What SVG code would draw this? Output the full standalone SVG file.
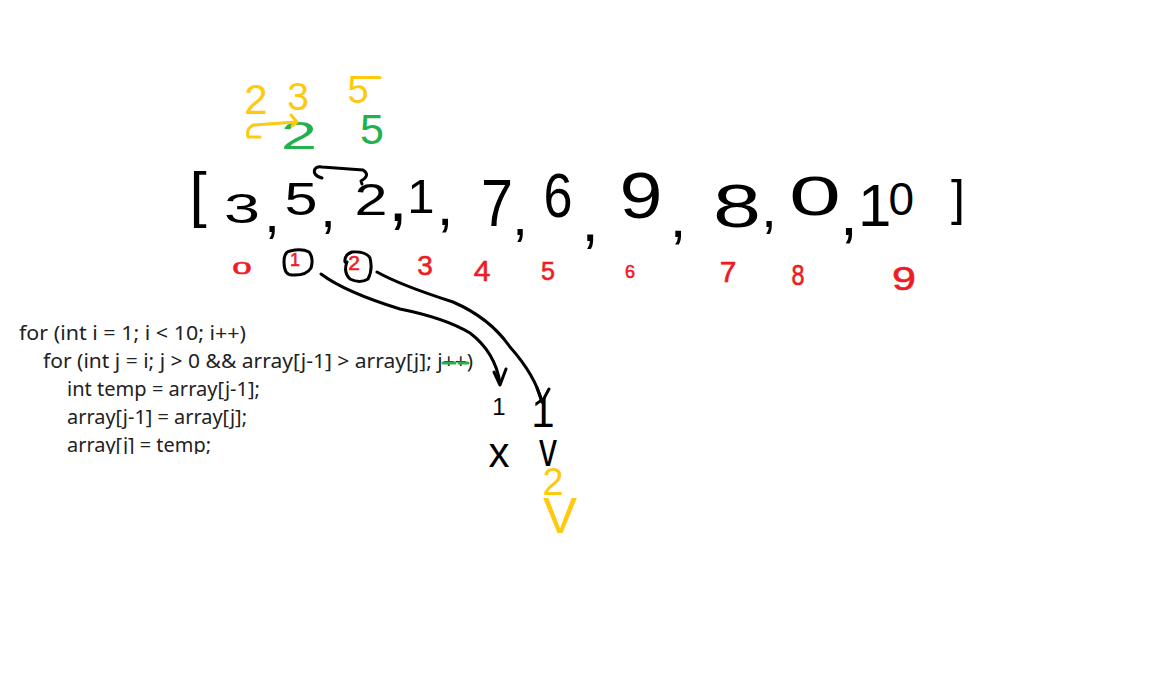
<svg xmlns="http://www.w3.org/2000/svg" width="1157" height="682" viewBox="0 0 1157 682">
  <defs>
    <clipPath id="codeClip"><rect x="0" y="300" width="500" height="154"/></clipPath>
  </defs>
  <style>
    .hw { font-family: "Liberation Sans", Arial, sans-serif; text-anchor: middle; }
    .blk { fill: #000000; }
    .red { fill: #ed1c24; stroke: #ed1c24; stroke-width: 0.6; }
    .yel { fill: #ffc90e; }
    .grn { fill: #22b14c; }
    .code { font-family: "Noto Sans", "Open Sans", sans-serif; font-size: 19px; fill: #222222; }
    .stroke { fill: none; stroke-width: 3; stroke-linecap: round; stroke-linejoin: round; }
    .sk { stroke: #000000; }
    .sy { stroke: #ffc90e; }
    .sg { stroke: #22b14c; }
  </style>
  <rect width="1157" height="682" fill="#ffffff"/>

  <g id="array" class="hw blk">
    <text x="198" y="215" font-size="62">[</text>
    <text x="242" y="223" font-size="43" textLength="36" lengthAdjust="spacingAndGlyphs">3</text>
    <text x="272" y="232" font-size="56">,</text>
    <text x="301" y="215" font-size="46" textLength="33" lengthAdjust="spacingAndGlyphs">5</text>
    <text x="328" y="227" font-size="56">,</text>
    <text x="371" y="215" font-size="45" textLength="33" lengthAdjust="spacingAndGlyphs">2</text>
    <text x="398" y="221" font-size="70">,</text>
    <text x="421" y="213" font-size="49">1</text>
    <text x="445" y="225" font-size="60">,</text>
    <text x="497" y="226" font-size="66" textLength="32" lengthAdjust="spacingAndGlyphs">7</text>
    <text x="520" y="235" font-size="56">,</text>
    <text x="558" y="217" font-size="63" textLength="29" lengthAdjust="spacingAndGlyphs">6</text>
    <text x="590" y="241" font-size="62">,</text>
    <text x="641" y="218" font-size="64" textLength="43" lengthAdjust="spacingAndGlyphs">9</text>
    <text x="678" y="237" font-size="60">,</text>
    <text x="737" y="227" font-size="61" textLength="48" lengthAdjust="spacingAndGlyphs">8</text>
    <text x="769" y="227" font-size="56">,</text>
    <text x="815" y="215" font-size="56" textLength="52" lengthAdjust="spacingAndGlyphs">0</text>
    <text x="849" y="235" font-size="64">,</text>
    <text x="858" y="226" font-size="60" style="text-anchor:start"><tspan>1</tspan><tspan font-size="46" dx="-3" dy="-11">0</tspan></text>
    <text x="958" y="215" font-size="50">]</text>
  </g>

  <g id="indices" class="hw red">
    <text x="242" y="274" font-size="17" textLength="19" lengthAdjust="spacingAndGlyphs">0</text>
    <text x="295" y="266" font-size="18">1</text>
    <text x="354" y="270" font-size="21">2</text>
    <text x="425" y="275" font-size="28">3</text>
    <text x="482" y="281" font-size="30">4</text>
    <text x="548" y="280" font-size="25">5</text>
    <text x="630" y="278" font-size="18">6</text>
    <text x="728" y="282" font-size="30">7</text>
    <text x="798" y="285" font-size="30" textLength="13" lengthAdjust="spacingAndGlyphs">8</text>
    <text x="904" y="290" font-size="34" textLength="24" lengthAdjust="spacingAndGlyphs">9</text>
  </g>

  <g id="index-circles" class="stroke sk">
    <path d="M290,251 Q284,252 284,262 Q284,275 292,275 Q306,276 311,268 Q314,258 309,252 Q302,248 290,251 Z"/>
    <path d="M345,262 Q344,255 352,252 Q366,251 370,258 Q373,270 368,279 Q360,284 350,279 Q343,272 347,262"/>
  </g>

  <g id="top-notes" class="hw">
    <text class="yel" x="256" y="114" font-size="42">2</text>
    <text class="yel" x="298" y="110" font-size="39">3</text>
    <text class="yel" x="358" y="103" font-size="38">5</text>
    <text class="grn" x="299" y="149" font-size="38" textLength="36" lengthAdjust="spacingAndGlyphs">2</text>
    <text class="grn" x="372" y="144" font-size="43">5</text>
  </g>
  <line class="stroke sy" x1="360" y1="77.5" x2="380" y2="77.5"/>

  <g id="code" class="code" clip-path="url(#codeClip)">
    <text x="19" y="340" textLength="227" lengthAdjust="spacingAndGlyphs">for (int i = 1; i &lt; 10; i++)</text>
    <text x="43" y="368" textLength="430" lengthAdjust="spacingAndGlyphs">for (int j = i; j &gt; 0 &amp;&amp; array[j-1] &gt; array[j]; j++)</text>
    <text x="67" y="396" textLength="193" lengthAdjust="spacingAndGlyphs">int temp = array[j-1];</text>
    <text x="67" y="424" textLength="180" lengthAdjust="spacingAndGlyphs">array[j-1] = array[j];</text>
    <text x="67" y="452" textLength="144" lengthAdjust="spacingAndGlyphs">array[j] = temp;</text>
  </g>
  <g id="code-strike" class="stroke sg">
    <line x1="443" y1="363" x2="455" y2="363"/>
    <line x1="459" y1="363" x2="468" y2="363"/>
  </g>

  <g id="connectors" class="stroke sk">
    <path d="M321,274 Q345,292 400,309 Q445,318 470,333 Q495,352 500,383"/>
    <path d="M494,372 L500,385 L506,369"/>
    <path d="M377,272 Q400,285 453,302 Q490,318 510,347 Q535,375 542,402"/>
    <path d="M537,388 L542,402 L549,389"/>
    <path d="M322,178 Q312,175 315,169 Q317,166 322,167 L363,170 Q371,175 361,181 L362,184"/>
  </g>
  <g id="swap-yellow" class="stroke sy">
    <path d="M260,137 L248,137 Q246,129 253,125 L296,122"/>
    <path d="M291,115 L297,122 L292,126"/>
  </g>

  <g id="results" class="hw">
    <text class="blk" x="499" y="415" font-size="24">1</text>
    <text class="blk" x="543" y="427" font-size="42">1</text>
    <text class="blk" x="499" y="467" font-size="42">x</text>
    <text class="blk" x="548" y="466" font-size="48" textLength="18" lengthAdjust="spacingAndGlyphs">v</text>
    <text class="yel" x="553" y="495" font-size="38">2</text>
    <text class="yel" x="560" y="533" font-size="50" textLength="34" lengthAdjust="spacingAndGlyphs">V</text>
  </g>
</svg>
